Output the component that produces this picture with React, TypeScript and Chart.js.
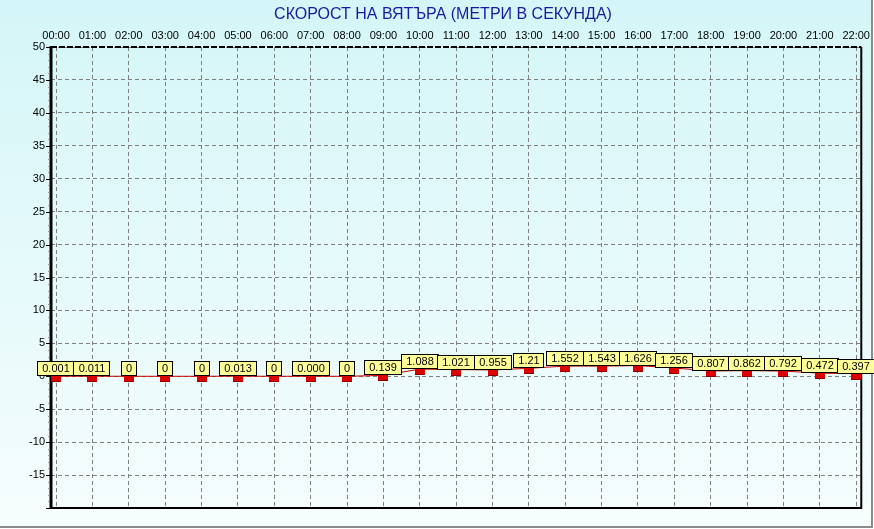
import React, { useEffect, useRef } from "react";
import { Chart, registerables } from "chart.js";

Chart.register(...registerables);

const hours = [
  "00:00", "01:00", "02:00", "03:00", "04:00", "05:00", "06:00", "07:00",
  "08:00", "09:00", "10:00", "11:00", "12:00", "13:00", "14:00", "15:00",
  "16:00", "17:00", "18:00", "19:00", "20:00", "21:00", "22:00",
];
const windSpeed = [
  0.001, 0.011, 0, 0, 0, 0.013, 0, 0.0, 0, 0.139, 1.088, 1.021, 0.955, 1.21,
  1.552, 1.543, 1.626, 1.256, 0.807, 0.862, 0.792, 0.472, 0.397,
];
const valueText = [
  "0.001", "0.011", "0", "0", "0", "0.013", "0", "0.000", "0", "0.139",
  "1.088", "1.021", "0.955", "1.21", "1.552", "1.543", "1.626", "1.256",
  "0.807", "0.862", "0.792", "0.472", "0.397",
];
const yMin = -20;
const yMax = 50;
const yStep = 5;
const titleText = "СКОРОСТ НА ВЯТЪРА (МЕТРИ В СЕКУНДА)";

const FONT = "Arial, 'Liberation Sans', sans-serif";

const decorPlugin = {
  id: "decor",
  beforeDraw(chart: any) {
    const ctx = chart.ctx;
    const W = chart.width;
    const H = chart.height;
    ctx.save();
    ctx.fillStyle = "#ffffff";
    ctx.fillRect(0, 0, W, H);
    const g = ctx.createLinearGradient(0, 0, 0, 527);
    g.addColorStop(0, "#d4f6f8");
    g.addColorStop(1, "#f6fdfd");
    ctx.fillStyle = g;
    ctx.fillRect(0, 0, 872, 527);
    ctx.strokeStyle = "#8a8a8a";
    ctx.lineWidth = 2;
    ctx.beginPath();
    ctx.moveTo(0, 527);
    ctx.lineTo(872, 527);
    ctx.lineTo(872, 0);
    ctx.stroke();
    ctx.restore();
  },
  afterDatasetsDraw(chart: any) {
    const ctx = chart.ctx;
    const { left, right, top, bottom } = chart.chartArea;
    const ys = chart.scales.y;
    ctx.save();
    // axis frame
    ctx.strokeStyle = "#000";
    ctx.lineWidth = 2;
    ctx.beginPath();
    ctx.moveTo(left, bottom);
    ctx.lineTo(right, bottom);
    ctx.lineTo(right, top);
    ctx.stroke();
    ctx.setLineDash([6, 2]);
    ctx.beginPath();
    ctx.moveTo(left, top);
    ctx.lineTo(right, top);
    ctx.stroke();
    ctx.setLineDash([]);
    ctx.lineWidth = 3;
    ctx.beginPath();
    ctx.moveTo(left, top - 1);
    ctx.lineTo(left, bottom + 1);
    ctx.stroke();
    // left axis ticks
    ctx.lineWidth = 1;
    for (let v = yMin; v <= yMax; v += 1) {
      const y = Math.round(ys.getPixelForValue(v)) + 0.5;
      const major = v % yStep === 0;
      const len = major ? 4 : 2;
      ctx.strokeStyle = major ? "#000" : "#999";
      ctx.beginPath();
      ctx.moveTo(left - 1 - len, y);
      ctx.lineTo(left - 1, y);
      ctx.stroke();
    }
    // markers
    const meta = chart.getDatasetMeta(0);
    meta.data.forEach((pt: any) => {
      const x = Math.round(pt.x);
      const y = Math.round(pt.y);
      ctx.fillStyle = "#dd0000";
      ctx.fillRect(x - 5, y, 10, 5);
      ctx.strokeStyle = "#8a0000";
      ctx.lineWidth = 1;
      ctx.beginPath();
      ctx.moveTo(x - 5, y + 5.5);
      ctx.lineTo(x + 5, y + 5.5);
      ctx.stroke();
    });
    // labels
    ctx.font = "11px " + FONT;
    ctx.textAlign = "center";
    ctx.textBaseline = "middle";
    meta.data.forEach((pt: any, i: number) => {
      const txt = valueText[i];
      const tw = ctx.measureText(txt).width;
      const bw = Math.round(tw + 10);
      const bh = 15;
      const x = Math.round(pt.x);
      const y = Math.round(pt.y);
      const bx = x - Math.round(bw / 2);
      const by = y - bh;
      ctx.fillStyle = "#ffff99";
      ctx.fillRect(bx, by, bw, bh);
      ctx.strokeStyle = "#000";
      ctx.lineWidth = 1;
      ctx.strokeRect(bx + 0.5, by + 0.5, bw - 1, bh - 1);
      ctx.fillStyle = "#000";
      ctx.fillText(txt, x, by + bh / 2 + 0.5);
    });
    // title
    ctx.font = "16px " + FONT;
    ctx.fillStyle = "#1a1aa0";
    ctx.textAlign = "center";
    ctx.textBaseline = "middle";
    ctx.fillText(titleText, 443, 15);
    ctx.restore();
  },
};

export default function App() {
  const ref = useRef<HTMLCanvasElement | null>(null);
  useEffect(() => {
    if (!ref.current) return;
    const chart = new Chart(ref.current, {
      type: "line",
      data: {
        datasets: [
          {
            data: windSpeed.map((v, i) => ({ x: i, y: v })),
            borderColor: "#cc0000",
            borderWidth: 1,
            pointRadius: 0,
            tension: 0,
          },
        ],
      },
      options: {
        responsive: false,
        animation: false,
        events: [],
        layout: { padding: { left: 0, top: 0, right: 8, bottom: 21 } },
        plugins: { legend: { display: false }, tooltip: { enabled: false }, title: { display: false } },
        scales: {
          x: {
            type: "linear",
            position: "top",
            min: -0.14,
            max: hours.length - 1 + 0.14,
            afterBuildTicks: (s: any) => {
              s.ticks = hours.map((_, i) => ({ value: i }));
            },
            afterFit: (s: any) => {
              s.height = 47;
            },
            ticks: {
              autoSkip: false,
              maxRotation: 0,
              padding: 4,
              color: "#000",
              font: { size: 11, family: FONT },
              callback: (v: any) => hours[v] ?? "",
            },
            grid: { color: "#808080", lineWidth: 1, drawTicks: false },
            border: { display: false, dash: [4, 3] },
          },
          y: {
            type: "linear",
            min: yMin,
            max: yMax,
            afterFit: (s: any) => {
              s.width = 51;
            },
            ticks: {
              stepSize: yStep,
              padding: 6,
              color: "#000",
              font: { size: 11, family: FONT },
              callback: (v: any) => (v === yMin ? "" : String(v)),
            },
            grid: { color: "#808080", lineWidth: 1, drawTicks: false },
            border: { display: false, dash: [4, 3] },
          },
        },
      },
      plugins: [decorPlugin],
    });
    return () => chart.destroy();
  }, []);
  return (
    <div style={{ position: "absolute", left: 0, top: 0, width: 874, height: 529 }}>
      <canvas ref={ref} width={874} height={529} style={{ display: "block" }} />
    </div>
  );
}
